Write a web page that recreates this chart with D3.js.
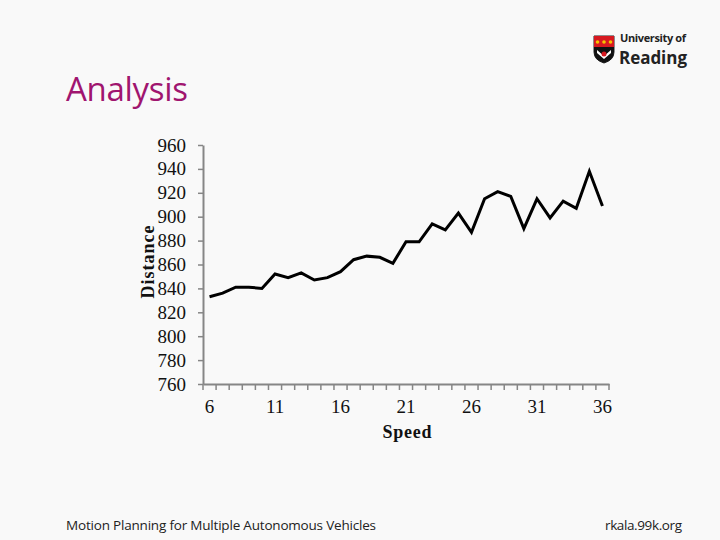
<!DOCTYPE html>
<html><head><meta charset="utf-8">
<script src="https://cdn.jsdelivr.net/npm/d3@7"></script>
<style>body{margin:0;background:#f9f9f9}svg{display:block}</style>
</head><body>
<script>
const speeds = d3.range(6, 37);
const distances = [833,836,841,841,840,852,849,853,847,849,854,864,867,866,861,879,879,894,889,903,887,915,921,917,890,915,899,913,907,938,909];
const yTicks = [760,780,800,820,840,860,880,900,920,940,960];
const xLabels = [6,11,16,21,26,31,36];

const W=720,H=540;
const svg=d3.select("body").append("svg").attr("width",W).attr("height",H);
svg.append("rect").attr("width",W).attr("height",H).attr("fill","#f9f9f9");

// title
svg.append("text").attr("x",66).attr("y",101).attr("font-family","Open Sans, sans-serif")
 .attr("font-size",33).attr("fill","#a0156f").attr("textLength",122).text("Analysis");

// logo
const lg=svg.append("g").attr("transform","translate(594,36)");
lg.append("path").attr("d","M0,0 H20 V16 Q20,24 10,27 Q0,24 0,16 Z").attr("fill","#fff").attr("stroke","#222").attr("stroke-width",1);
lg.append("rect").attr("x",0).attr("y",0).attr("width",20).attr("height",11).attr("fill","#d71920");
[3.5,10,16.5].forEach(cx=>lg.append("circle").attr("cx",cx).attr("cy",6).attr("r",1.8).attr("fill","#f5c400"));
lg.append("path").attr("d","M0,11 H20 V16 Q20,24 10,27 Q0,24 0,16 Z").attr("fill","#111");
lg.append("path").attr("d","M3,14 L10,20 L17,14 L17,17 L10,23 L3,17Z").attr("fill","#fff");
lg.append("circle").attr("cx",10).attr("cy",18).attr("r",2.5).attr("fill","#d71920");
svg.append("text").attr("x",620).attr("y",42).attr("font-family","Open Sans, sans-serif").attr("font-weight","bold")
 .attr("font-size",11).attr("fill","#222").attr("textLength",66).text("University of");
svg.append("text").attr("x",619).attr("y",64).attr("font-family","Open Sans, sans-serif").attr("font-weight","bold")
 .attr("font-size",17).attr("fill","#222").attr("textLength",68).text("Reading");

// scales
const x=d3.scaleBand().domain(speeds).range([203,609]);
const y=d3.scaleLinear().domain([760,960]).range([384,145]);

const axisColor="#868686";
const gy=svg.append("g").attr("transform","translate(203,0)")
 .call(d3.axisLeft(y).tickValues(yTicks).tickSize(5).tickPadding(12).tickSizeOuter(0));
const gx=svg.append("g").attr("transform","translate(0,384)")
 .call(d3.axisBottom(x).tickValues(xLabels).tickSize(0).tickPadding(16).tickSizeOuter(0));
// category boundary ticks
const bounds=speeds.map(s=>x(s)).concat([x.range()[1]]);
svg.append("g").selectAll("line").data(bounds).join("line")
 .attr("x1",d=>d).attr("x2",d=>d).attr("y1",384).attr("y2",390)
 .attr("stroke",axisColor).attr("stroke-width",1.5);
[gx,gy].forEach(g=>{
 g.select(".domain").attr("stroke",axisColor).attr("stroke-width",2);
 g.selectAll(".tick line").attr("stroke",axisColor).attr("stroke-width",1.5);
 g.selectAll("text").attr("font-family","Liberation Serif, Times New Roman, serif").attr("font-size",19).attr("fill","#111");
});

// axis titles
svg.append("text").attr("transform","translate(154,262) rotate(-90)").attr("text-anchor","middle")
 .attr("font-family","Liberation Serif, serif").attr("font-weight","bold").attr("font-size",18).attr("fill","#111")
 .attr("textLength",73).text("Distance");
svg.append("text").attr("x",407).attr("y",438).attr("text-anchor","middle")
 .attr("font-family","Liberation Serif, serif").attr("font-weight","bold").attr("font-size",18).attr("fill","#111")
 .attr("textLength",49).text("Speed");

// line
const line=d3.line().x((d,i)=>x(speeds[i])+x.bandwidth()/2).y(d=>y(d));
svg.append("path").datum(distances).attr("d",line).attr("fill","none").attr("stroke","#000")
 .attr("stroke-width",3).attr("stroke-linejoin","miter");

// footer
svg.append("text").attr("x",66).attr("y",530).attr("font-family","Open Sans, sans-serif").attr("font-size",13.5)
 .attr("fill","#222").attr("textLength",310).text("Motion Planning for Multiple Autonomous Vehicles");
svg.append("text").attr("x",605).attr("y",530).attr("font-family","Open Sans, sans-serif").attr("font-size",13.5)
 .attr("fill","#222").attr("textLength",77).text("rkala.99k.org");
</script>
</body></html>
